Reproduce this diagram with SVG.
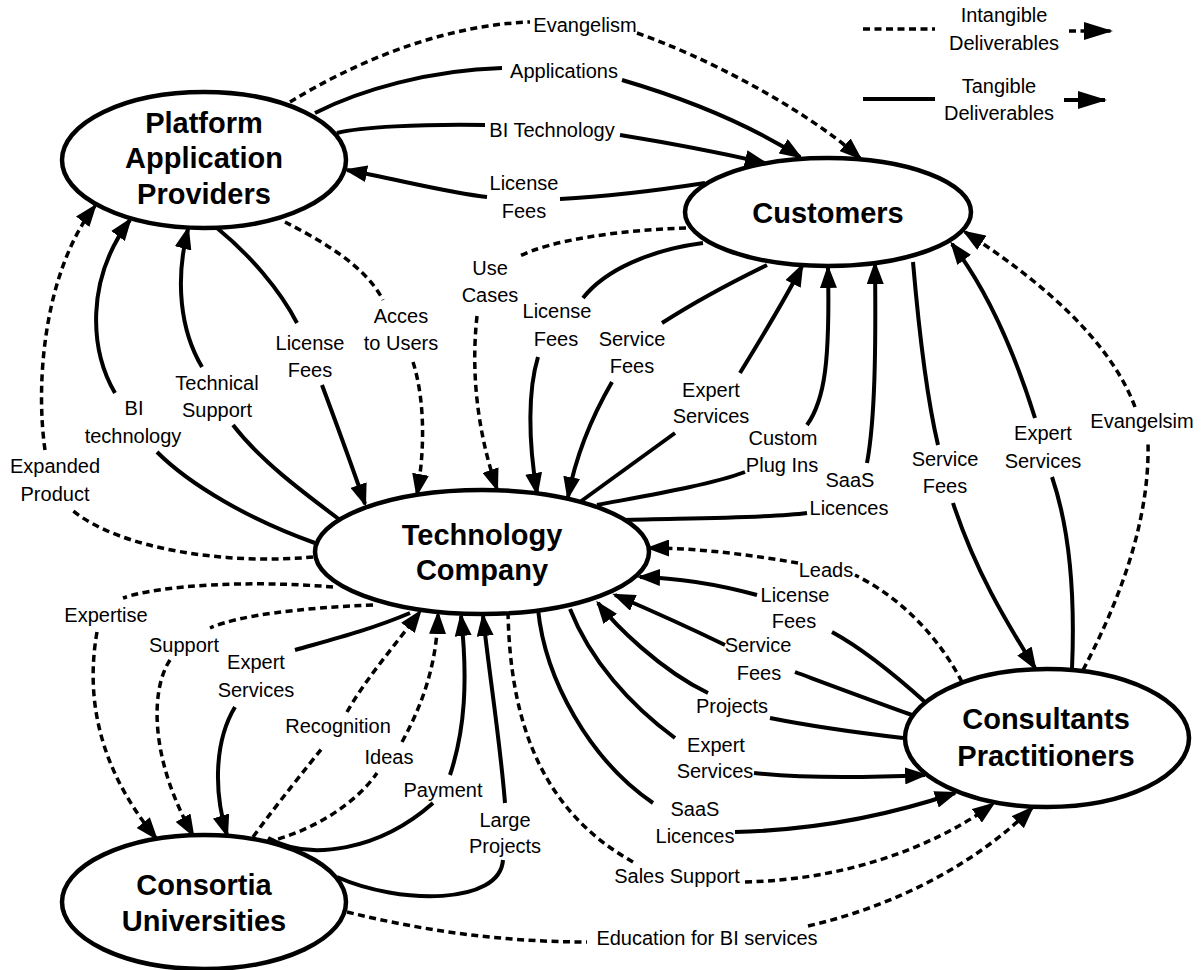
<svg xmlns="http://www.w3.org/2000/svg" width="1201" height="970" viewBox="0 0 1201 970">
<style>
.node{fill:#fff;stroke:#000;stroke-width:4.5}
.nt{font-family:"Liberation Sans",Arial,sans-serif;font-weight:bold;font-size:29px;text-anchor:middle;fill:#000}
.s{fill:none;stroke:#000;stroke-width:4}
.d{fill:none;stroke:#000;stroke-width:3.5;stroke-dasharray:7 4.5}
.a{marker-end:url(#ah)}
.lb{font-family:"Liberation Sans",Arial,sans-serif;font-size:20px;text-anchor:middle;fill:#000}
</style>
<defs>
<marker id="ah" markerUnits="userSpaceOnUse" viewBox="0 0 23 17" markerWidth="23" markerHeight="17" refX="20" refY="8.5" orient="auto"><path d="M0,0 L23,8.5 L0,17 z" fill="#000"/></marker>
<marker id="ahL" markerUnits="userSpaceOnUse" viewBox="0 0 29 18" markerWidth="29" markerHeight="18" refX="27" refY="9" orient="auto"><path d="M0,0 L29,9 L0,18 z" fill="#000"/></marker>
</defs>
<rect width="1201" height="970" fill="#fff"/>
<g id="connectors">
<g id="c-evangelism"><path class="d" d="M290,102 C350,65 440,25 530,22"/><path class="d a" d="M637,33 C700,55 800,105 860,158"/><text class="lb" x="585" y="32">Evangelism</text></g>
<g id="c-applications"><path class="s" d="M315,113 C360,90 430,70 502,68"/><path class="s a" d="M622,80 C690,100 750,125 800,157"/><text class="lb" x="564" y="78">Applications</text></g>
<g id="c-bitech"><path class="s" d="M337,133 C360,127 420,124 485,125"/><path class="s a" d="M620,135 Q700,148 765,163"/><text class="lb" x="552" y="137">BI Technology</text></g>
<g id="c-lic-cust-pap"><path class="s" d="M705,183 C660,190 600,197 560,199"/><path class="s a" d="M487,197 C450,193 400,180 347,170"/><text class="lb" x="524" y="190">License</text><text class="lb" x="524" y="218">Fees</text></g>
<g id="c-usecases"><path class="d" d="M686,228 C620,230 550,240 518,257"/><path class="d a" d="M477,316 C470,380 480,440 497,489"/><text class="lb" x="490" y="275">Use</text><text class="lb" x="490" y="302">Cases</text></g>
<g id="c-lic-cust-tc"><path class="s" d="M703,243 C650,250 605,270 583,298"/><path class="s a" d="M538,357 C528,390 528,440 537,493"/><text class="lb" x="557" y="318">License</text><text class="lb" x="556" y="346">Fees</text></g>
<g id="c-svc-cust-tc"><path class="s" d="M767,265 C730,283 690,305 662,323"/><path class="s a" d="M612,382 C590,420 575,460 568,497"/><text class="lb" x="632" y="346">Service</text><text class="lb" x="632" y="373">Fees</text></g>
<g id="c-exp-tc-cust"><path class="s" d="M580,502 C610,480 645,455 675,433"/><path class="s a" d="M740,373 C760,340 785,300 802,266"/><text class="lb" x="711" y="397">Expert</text><text class="lb" x="711" y="423">Services</text></g>
<g id="c-plugins"><path class="s" d="M597,505 C650,495 710,485 745,472"/><path class="s a" d="M807,425 C825,400 830,360 828,268"/><text class="lb" x="783" y="445">Custom</text><text class="lb" x="782" y="472">Plug Ins</text></g>
<g id="c-saas-tc-cust"><path class="s" d="M622,520 C700,518 770,518 807,513"/><path class="s a" d="M867,463 C875,420 876,350 875,264"/><text class="lb" x="850" y="487">SaaS</text><text class="lb" x="849" y="515">Licences</text></g>
<g id="c-svc-cust-cons"><path class="s" d="M913,262 C918,320 925,390 938,445"/><path class="s a" d="M953,503 C975,570 1005,620 1035,668"/><text class="lb" x="945" y="466">Service</text><text class="lb" x="945" y="493">Fees</text></g>
<g id="c-exp-cons-cust"><path class="s" d="M1072,669 C1075,600 1070,530 1052,477"/><path class="s a" d="M1035,418 C1020,370 995,300 952,244"/><text class="lb" x="1043" y="440">Expert</text><text class="lb" x="1043" y="468">Services</text></g>
<g id="c-evangelsim"><path class="d" d="M1083,670 C1120,600 1150,520 1148,442"/><path class="d a" d="M1135,407 C1110,340 1040,280 965,232"/><text class="lb" x="1142" y="428">Evangelsim</text></g>
<g id="c-leads"><path class="d" d="M962,682 C940,640 905,600 855,575"/><path class="d a" d="M798,563 C750,555 700,548 649,548"/><text class="lb" x="826" y="577">Leads</text></g>
<g id="c-lic-cons-tc"><path class="s" d="M925,702 C895,675 865,650 832,632"/><path class="s a" d="M757,595 C720,585 680,578 640,577"/><text class="lb" x="795" y="602">License</text><text class="lb" x="794" y="628">Fees</text></g>
<g id="c-svc-cons-tc"><path class="s" d="M912,715 C870,700 830,685 795,672"/><path class="s a" d="M725,645 C690,628 650,610 615,595"/><text class="lb" x="758" y="652">Service</text><text class="lb" x="759" y="680">Fees</text></g>
<g id="c-projects"><path class="s" d="M903,738 C860,733 820,728 770,718"/><path class="s a" d="M708,693 C660,670 615,625 598,603"/><text class="lb" x="732" y="713">Projects</text></g>
<g id="c-exp-tc-cons"><path class="s" d="M570,609 C590,660 630,705 675,738"/><path class="s a" d="M754,773 C800,778 860,778 925,775"/><text class="lb" x="716" y="752">Expert</text><text class="lb" x="715" y="778">Services</text></g>
<g id="c-saas-tc-cons"><path class="s" d="M538,609 C545,680 590,760 653,803"/><path class="s a" d="M735,832 C820,830 890,815 955,793"/><text class="lb" x="695" y="816">SaaS</text><text class="lb" x="695" y="843">Licences</text></g>
<g id="c-salessupport"><path class="d" d="M508,612 C510,720 540,810 633,862"/><path class="d a" d="M745,882 C840,880 930,850 993,804"/><text class="lb" x="677" y="883">Sales Support</text></g>
<g id="c-education"><path class="d" d="M347,912 C420,930 500,942 587,942"/><path class="d a" d="M808,926 C900,905 980,860 1032,808"/><text class="lb" x="707" y="945">Education for BI services</text></g>
<g id="c-largeprojects"><path class="s" d="M337,877 C400,905 500,905 503,860"/><path class="s a" d="M505,803 C500,740 490,680 483,616"/><text class="lb" x="505" y="827">Large</text><text class="lb" x="505" y="853">Projects</text></g>
<g id="c-payment"><path class="s" d="M268,838 C310,862 380,850 433,803"/><path class="s a" d="M450,775 C465,730 468,680 461,616"/><text class="lb" x="443" y="797">Payment</text></g>
<g id="c-ideas"><path class="d" d="M267,842 C310,832 355,805 377,773"/><path class="d a" d="M402,742 C425,700 437,660 438,614"/><text class="lb" x="389" y="764">Ideas</text></g>
<g id="c-recognition"><path class="d" d="M253,837 C280,800 305,770 323,747"/><path class="d a" d="M347,712 C365,680 395,645 420,612"/><text class="lb" x="338" y="733">Recognition</text></g>
<g id="c-exp-tc-consortia"><path class="s" d="M410,613 C370,630 330,640 295,650"/><path class="s a" d="M235,707 C215,740 213,790 227,835"/><text class="lb" x="256" y="669">Expert</text><text class="lb" x="256" y="697">Services</text></g>
<g id="c-support"><path class="d" d="M373,605 C300,608 240,615 210,628"/><path class="d a" d="M170,660 C150,690 150,760 193,835"/><text class="lb" x="184" y="652">Support</text></g>
<g id="c-expertise"><path class="d" d="M333,587 C250,580 160,585 123,598"/><path class="d a" d="M97,632 C85,700 100,770 156,838"/><text class="lb" x="106" y="622">Expertise</text></g>
<g id="c-expanded"><path class="d" d="M313,557 C230,565 120,550 72,510"/><path class="d a" d="M45,450 C35,380 45,270 95,206"/><text class="lb" x="55" y="473">Expanded</text><text class="lb" x="55" y="501">Product</text></g>
<g id="c-bitechnology"><path class="s" d="M315,543 C250,520 190,485 157,452"/><path class="s a" d="M115,393 C90,350 85,280 130,220"/><text class="lb" x="134" y="415">BI</text><text class="lb" x="133" y="443">technology</text></g>
<g id="c-techsupport"><path class="s" d="M340,520 C300,490 260,460 233,425"/><path class="s a" d="M202,367 C180,330 175,280 188,229"/><text class="lb" x="217" y="390">Technical</text><text class="lb" x="217" y="417">Support</text></g>
<g id="c-lic-pap-tc"><path class="s" d="M217,228 C250,255 280,290 297,323"/><path class="s a" d="M322,385 C335,420 350,460 365,504"/><text class="lb" x="310" y="350">License</text><text class="lb" x="310" y="377">Fees</text></g>
<g id="c-access"><path class="d" d="M285,222 C320,240 365,265 383,300"/><path class="d a" d="M413,362 C425,400 425,450 417,494"/><text class="lb" x="401" y="323">Acces</text><text class="lb" x="401" y="350">to Users</text></g>
</g>
<g id="nodes">
<g id="n-pap"><ellipse class="node" cx="204" cy="160" rx="142" ry="68"/><text class="nt" x="204" y="133">Platform</text><text class="nt" x="204" y="168">Application</text><text class="nt" x="204" y="204">Providers</text></g>
<g id="n-customers"><ellipse class="node" cx="828" cy="212" rx="143" ry="54"/><text class="nt" x="828" y="223">Customers</text></g>
<g id="n-techco"><ellipse class="node" cx="482" cy="552" rx="167" ry="62"/><text class="nt" x="482" y="545">Technology</text><text class="nt" x="482" y="580">Company</text></g>
<g id="n-consultants"><ellipse class="node" cx="1047" cy="738" rx="142" ry="69"/><text class="nt" x="1046" y="729">Consultants</text><text class="nt" x="1046" y="766">Practitioners</text></g>
<g id="n-consortia"><ellipse class="node" cx="204" cy="902" rx="142" ry="67"/><text class="nt" x="204" y="895">Consortia</text><text class="nt" x="204" y="931">Universities</text></g>
</g>
<g id="legend">
<path class="d" d="M863,29 L935,29"/><path class="d" d="M1069,31 L1111,31" marker-end="url(#ahL)"/>
<text class="lb" x="1004" y="22">Intangible</text><text class="lb" x="1004" y="50">Deliverables</text>
<path class="s" d="M863,99 L935,99"/><path class="s" d="M1064,100 L1105,100" marker-end="url(#ahL)"/>
<text class="lb" x="999" y="93">Tangible</text><text class="lb" x="999" y="120">Deliverables</text>
</g>
</svg>
